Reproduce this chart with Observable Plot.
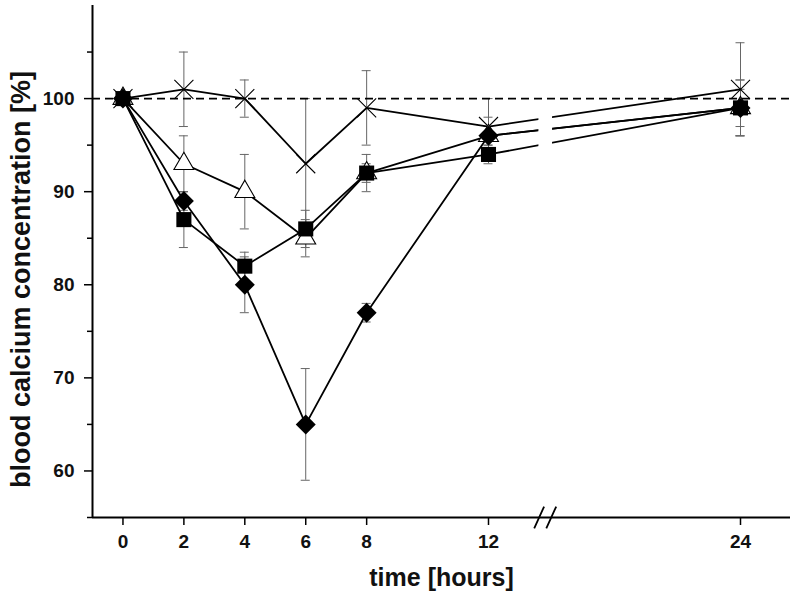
<!DOCTYPE html>
<html>
<head>
<meta charset="utf-8">
<script src="https://cdn.jsdelivr.net/npm/d3@7"></script>
<script src="https://cdn.jsdelivr.net/npm/@observablehq/plot@0.6"></script>
<style>
  html, body { margin: 0; padding: 0; background: #fff; }
  #chart svg { display: block; }
</style>
</head>
<body>
<div id="chart"></div>
<script>
// ---- data ----
const times = [0, 2, 4, 6, 8, 12, 24];
const xTicks = [0, 2, 4, 6, 8, 12, 24];
const yTicks = [60, 70, 80, 90, 100];
const yMinorTicks = [55, 65, 75, 85, 95, 105];

const crossMean    = [100, 101, 100, 93, 99, 97, 101];
const crossErr     = [0, 4, 2, 7, 4, 3, 5];
const triangleMean = [100, 93, 90, 85, 92, 96, 99];
const triangleErr  = [0, 3, 4, 2, 2, 2, 3];
const squareMean   = [100, 87, 82, 86, 92, 94, 99];
const squareErr    = [0, 3, 1.5, 2, 1, 1, 2];
const diamondMean  = [100, 89, 80, 65, 77, 96, 99];
const diamondErr   = [0, 1, 3, 6, 1, 1, 3];

const seriesList = [
  {name: "cross", mean: crossMean, err: crossErr},
  {name: "triangle", mean: triangleMean, err: triangleErr},
  {name: "square", mean: squareMean, err: squareErr},
  {name: "diamond", mean: diamondMean, err: diamondErr}
];

// broken time axis
const xDomain = [-1, 12, 24, 26.4];
const xRange = [92, 488, 740, 790];
const breakAt = 14.7;
const gap = [14.4, 15.05];
const yDomain = [55, 110];

const rows = seriesList.flatMap(s => times.map((t, i) => ({
  series: s.name, t, v: s.mean[i], lo: s.mean[i] - s.err[i], hi: s.mean[i] + s.err[i]
})));
const bySeries = name => rows.filter(d => d.series === name);
const withErr = rows.filter(d => d.hi > d.lo);

// "//" axis-break glyph as a custom symbol
const breakSymbol = {
  draw(context, size) {
    const s = Math.sqrt(size) / 2;
    context.moveTo(-s, s); context.lineTo(-s * 0.1, -s);
    context.moveTo(s * 0.1, s); context.lineTo(s, -s);
  }
};

const font = "'Liberation Sans', Arial, Helvetica, sans-serif";

const chart = Plot.plot({
  width: 792,
  height: 593,
  marginLeft: 92,
  marginRight: 2,
  marginTop: 5,
  marginBottom: 76,
  style: {fontFamily: font, background: "#fff", color: "#111"},
  x: {type: "linear", domain: xDomain, range: xRange},
  y: {domain: yDomain},
  marks: [
    // error bars
    Plot.ruleX(withErr, {x: "t", y1: "lo", y2: "hi", stroke: "#666", strokeWidth: 1}),
    Plot.ruleY(withErr, {x1: "t", x2: "t", y: "hi", stroke: "#666", strokeWidth: 1, insetLeft: -4.5, insetRight: -4.5}),
    Plot.ruleY(withErr, {x1: "t", x2: "t", y: "lo", stroke: "#666", strokeWidth: 1, insetLeft: -4.5, insetRight: -4.5}),
    // reference line at 100 %
    Plot.ruleY([100], {x1: xDomain[0], x2: xDomain[xDomain.length - 1], stroke: "#000", strokeWidth: 1.6, strokeDasharray: "8,5"}),
    // connecting lines
    Plot.line(rows, {x: "t", y: "v", z: "series", stroke: "#000", strokeWidth: 1.8}),
    // gap in the lines at the axis break
    Plot.rect([0], {x1: gap[0], x2: gap[1], y1: 93.3, y2: 99.2, fill: "#fff"}),
    // markers
    Plot.dot(bySeries("cross"), {x: "t", y: "v", symbol: "times", r: 8.7, stroke: "#000", strokeWidth: 1.1}),
    Plot.dot(bySeries("triangle"), {x: "t", y: "v", symbol: "triangle2", r: 9.5, stroke: "#000", fill: "#fff", strokeWidth: 1.1}),
    Plot.dot(bySeries("square"), {x: "t", y: "v", symbol: "square", r: 8.5, fill: "#000", stroke: "none"}),
    Plot.dot(bySeries("diamond"), {x: "t", y: "v", symbol: "diamond2", r: 9, fill: "#000", stroke: "none"}),
    // axis lines
    Plot.ruleX([xDomain[0]], {y1: yDomain[0], y2: yDomain[1], stroke: "#000", strokeWidth: 2}),
    Plot.ruleY([yDomain[0]], {x1: xDomain[0], x2: xDomain[xDomain.length - 1], stroke: "#000", strokeWidth: 2}),
    // axis break mark
    Plot.dot([breakAt], {x: d => d, y: yDomain[0], symbol: breakSymbol, r: 12.4, stroke: "#000", strokeWidth: 1.8, fill: "none"}),
    // axes
    Plot.axisY({ticks: yTicks, tickSize: 8, tickPadding: 10, tickFormat: d => String(d), fontSize: 19, fontWeight: "bold", stroke: "#000", strokeWidth: 1.5,
      label: "blood calcium concentration [%]", labelAnchor: "center", labelArrow: "none", labelOffset: 82}),
    Plot.axisY({ticks: yMinorTicks, tickSize: 5, tickFormat: () => "", label: null, stroke: "#000", strokeWidth: 1.5}),
    Plot.axisX({ticks: xTicks, tickSize: 8, tickPadding: 9, tickFormat: d => String(d), fontSize: 19, fontWeight: "bold", stroke: "#000", strokeWidth: 1.5,
      label: "time [hours]", labelAnchor: "center", labelArrow: "none", labelOffset: 68})
  ]
});

// axis title sizes
chart.querySelectorAll("g[aria-label='y-axis label'] text").forEach(t => {
  t.style.fontSize = "27px";
  t.style.fontWeight = "bold";
  t.setAttribute("dx", "-18");
});
chart.querySelectorAll("g[aria-label='x-axis label'] text").forEach(t => {
  t.style.fontSize = "25px";
  t.style.fontWeight = "bold";
});
document.getElementById("chart").appendChild(chart);
</script>
</body>
</html>
